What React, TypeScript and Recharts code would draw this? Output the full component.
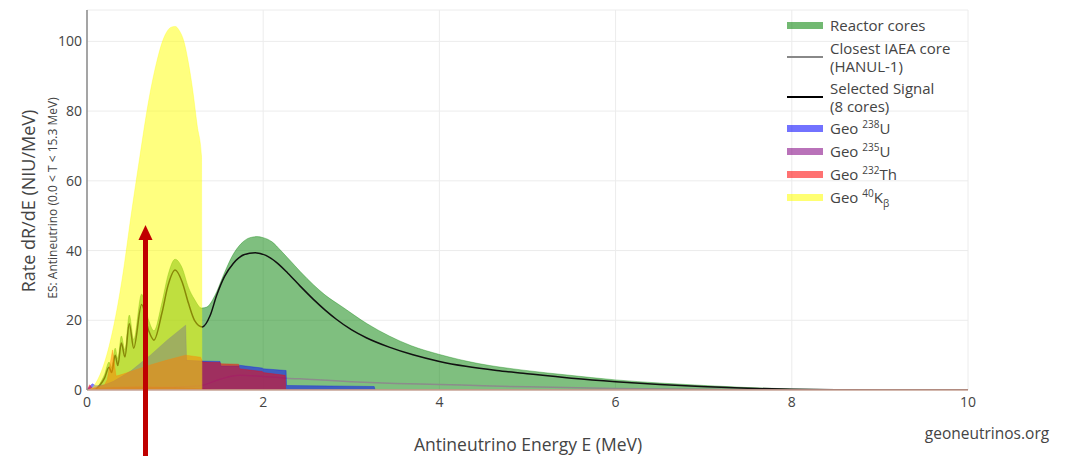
import { ComposedChart, Area, Line, XAxis, YAxis, CartesianGrid } from 'recharts'

// Reactor cores (upper envelope, filled to zero)
const reactorE = [0, 0.1, 0.15, 0.2, 0.25, 0.28, 0.32, 0.35, 0.39, 0.43, 0.48, 0.53, 0.62, 0.7, 0.76, 0.85, 0.92, 1.0, 1.08, 1.15, 1.22, 1.3, 1.36, 1.45, 1.55, 1.65, 1.75, 1.85, 1.93, 2.0, 2.1, 2.2, 2.3, 2.42, 2.57, 2.7, 2.9, 3.18, 3.43, 3.68, 4.0, 4.44, 4.95, 5.45, 6.0, 6.5, 7.0, 7.5, 8.0, 8.5, 9.0, 10]
const reactorR = [0, 0.3, 2, 4.5, 8, 6.5, 12, 9, 15.5, 11.5, 21.5, 14.5, 27.5, 20, 17, 25, 33, 37.5, 35, 29.5, 26, 23.5, 23.8, 27, 33, 38.5, 42, 43.7, 44, 43.7, 42.5, 40, 37.3, 34, 30.2, 27.3, 23.8, 19, 15.5, 12.7, 10.2, 7.6, 5.7, 4.3, 2.9, 2.0, 1.3, 0.7, 0.3, 0.1, 0.03, 0]

// Closest IAEA core (HANUL-1)
const iaeaE = [0, 0.5, 1.0, 1.3, 1.5, 1.73, 2.0, 2.26, 2.5, 3.0, 3.5, 4.0, 4.5, 5.0, 6.0, 7.0, 8.0, 9.0, 10]
const iaeaR = [0, 0.3, 0.8, 1.3, 3.0, 4.2, 3.9, 3.4, 3.1, 2.4, 1.9, 1.6, 1.2, 0.9, 0.4, 0.2, 0.08, 0.02, 0]

// Selected signal (8 cores)
const signalE = [0.1, 0.15, 0.2, 0.25, 0.28, 0.32, 0.35, 0.39, 0.43, 0.48, 0.53, 0.62, 0.7, 0.76, 0.85, 0.92, 1.0, 1.08, 1.15, 1.22, 1.31, 1.4, 1.47, 1.56, 1.66, 1.78, 1.91, 2.03, 2.15, 2.28, 2.42, 2.57, 2.7, 2.83, 3.0, 3.17, 3.43, 3.7, 4.0, 4.3, 4.65, 4.95, 5.5, 6.0, 6.5, 6.97, 7.5, 8.0, 8.5, 9.0, 10]
const signalR = [0.2, 1.5, 3.5, 6.5, 5, 10, 7, 13.5, 9.5, 19, 12, 24.5, 17, 14.3, 22, 30, 34.4, 31, 25, 20, 18.1, 21.5, 27, 32.5, 36.3, 38.8, 39.4, 38.6, 36.6, 33.5, 29.8, 26, 23, 20.3, 17.3, 15, 12.3, 10.1, 8.2, 6.8, 5.6, 4.8, 3.4, 2.4, 1.6, 1.0, 0.5, 0.2, 0.08, 0.02, 0]

// Geo U-238
const u238E = [0, 0.03, 0.06, 0.1, 0.2, 0.3, 0.5, 0.72, 0.91, 1.12, 1.13, 1.31, 1.51, 1.52, 1.72, 1.73, 1.99, 2.0, 2.26, 2.265, 3.0, 3.26, 3.27, 10]
const u238R = [0, 1.0, 1.8, 1.2, 1.5, 2.5, 5.5, 10, 14.3, 18.6, 8.5, 8.3, 8.2, 6.9, 6.9, 7.1, 6.3, 6.1, 5.6, 1.3, 1.1, 1.0, 0, 0]

// Geo U-235
const u235E = [0, 0.1, 0.3, 0.6, 0.9, 1.2, 1.4, 1.5, 10]
const u235R = [0, 0.5, 0.8, 0.9, 0.8, 0.5, 0.2, 0, 0]

// Geo Th-232
const th232E = [0, 0.03, 0.06, 0.1, 0.2, 0.23, 0.29, 0.33, 0.4, 0.54, 0.72, 0.91, 1.12, 1.29, 1.31, 1.51, 1.52, 1.72, 1.73, 1.99, 2.0, 2.25, 2.255, 10]
const th232R = [0, 1.5, 0.5, 0.8, 1.5, 3, 11.5, 4, 4.5, 5.7, 7.2, 8.6, 10, 9.4, 8.0, 7.9, 7.5, 7.4, 6.1, 5.3, 5.0, 4.2, 0, 0]

// Geo K-40 (beta)
const k40E = [0, 0.05, 0.1, 0.2, 0.3, 0.4, 0.5, 0.6, 0.7, 0.8, 0.85, 0.9, 0.95, 1.0, 1.05, 1.1, 1.15, 1.2, 1.25, 1.3, 1.305, 10]
const k40R = [0, 0.4, 2, 8, 18, 32, 50, 67, 83, 95, 99.5, 102.5, 104, 104.3, 103, 100, 94, 86, 76, 67, 0, 0]

const xTicks = [0, 2, 4, 6, 8, 10]
const yTicks = [0, 20, 40, 60, 80, 100]

const toPts = (es: number[], rs: number[]) => es.map((e, i) => ({ e, r: rs[i] }))

const FONT = '"Open Sans", "Noto Sans", sans-serif'

const areas = [
  { key: 'u238', data: toPts(u238E, u238R), color: '#0000ff', z: 300, curve: 'linear' },
  { key: 'u235', data: toPts(u235E, u235R), color: '#800080', z: 310, curve: 'linear' },
  { key: 'th232', data: toPts(th232E, th232R), color: '#ff0000', z: 320, curve: 'linear' },
  { key: 'k40', data: toPts(k40E, k40R), color: '#ffff00', z: 330, curve: 'monotone' },
] as const

function Swatch({ color, line }: { color: string; line?: boolean }) {
  if (line) {
    return <div style={{ width: 36, height: 2, background: color, marginRight: 7 }} />
  }
  return (
    <div
      style={{
        width: 34,
        height: 5,
        background: color,
        opacity: 0.55,
        border: `1px solid ${color}`,
        marginRight: 7,
      }}
    />
  )
}

function LegendBox() {
  const row = (h: number) => ({
    display: 'flex',
    alignItems: 'center',
    padding: '2px 0',
    lineHeight: `${h}px`,
  })
  const sup = { fontSize: 10, verticalAlign: 'super', lineHeight: 0 } as const
  return (
    <div
      style={{
        position: 'absolute',
        left: 787,
        top: 14,
        fontFamily: FONT,
        fontSize: 15,
        color: '#444',
      }}
    >
      <div style={row(19)}>
        <Swatch color="#008000" />
        <span>Reactor cores</span>
      </div>
      <div style={row(18)}>
        <Swatch color="#888888" line />
        <span>
          Closest IAEA core
          <br />
          (HANUL-1)
        </span>
      </div>
      <div style={row(18)}>
        <Swatch color="#000000" line />
        <span>
          Selected Signal
          <br />
          (8 cores)
        </span>
      </div>
      <div style={row(19)}>
        <Swatch color="#0000ff" />
        <span>
          Geo <span style={sup}>238</span>U
        </span>
      </div>
      <div style={row(19)}>
        <Swatch color="#800080" />
        <span>
          Geo <span style={sup}>235</span>U
        </span>
      </div>
      <div style={row(19)}>
        <Swatch color="#ff0000" />
        <span>
          Geo <span style={sup}>232</span>Th
        </span>
      </div>
      <div style={row(19)}>
        <Swatch color="#ffff00" />
        <span>
          Geo <span style={sup}>40</span>K
          <span style={{ fontSize: 10, verticalAlign: 'sub', lineHeight: 0 }}>β</span>
        </span>
      </div>
    </div>
  )
}

export default function App() {
  return (
    <div style={{ position: 'absolute', left: 0, top: 0, width: 1067, height: 456, background: '#fff' }}>
      <ComposedChart width={1067} height={456} margin={{ top: 10, right: 99, bottom: 0, left: 0 }}>
        <CartesianGrid stroke="#ececec" strokeWidth={1} />
        <XAxis
          type="number"
          dataKey="e"
          domain={[0, 10]}
          ticks={xTicks}
          allowDataOverflow
          height={66}
          tickSize={0}
          tickMargin={7}
          tick={{ fill: '#444', fontSize: 14, fontFamily: FONT }}
          axisLine={{ stroke: '#c9a597', strokeWidth: 1.5 }}
        />
        <YAxis
          type="number"
          dataKey="r"
          domain={[0, 109]}
          ticks={yTicks}
          allowDataOverflow
          width={87}
          tickSize={0}
          tickMargin={5}
          tick={{ fill: '#444', fontSize: 14, fontFamily: FONT }}
          axisLine={{ stroke: '#8a8a8a', strokeWidth: 1.5 }}
        />
        <Area
          data={toPts(reactorE, reactorR)}
          dataKey="r"
          type="monotone"
          fill="#008000"
          fillOpacity={0.5}
          stroke="#008000"
          strokeOpacity={0.35}
          strokeWidth={1}
          isAnimationActive={false}
          zIndex={100}
        />
        <Line
          data={toPts(iaeaE, iaeaR)}
          dataKey="r"
          type="monotone"
          stroke="#8c8c8c"
          strokeWidth={1.5}
          dot={false}
          isAnimationActive={false}
          zIndex={200}
        />
        <Line
          data={toPts(signalE, signalR)}
          dataKey="r"
          type="monotone"
          stroke="#111"
          strokeWidth={1.5}
          dot={false}
          isAnimationActive={false}
          zIndex={210}
        />
        {areas.map((a) => (
          <Area
            key={a.key}
            data={a.data}
            dataKey="r"
            type={a.curve}
            fill={a.color}
            fillOpacity={0.5}
            stroke={a.color}
            strokeOpacity={0.3}
            strokeWidth={1}
            isAnimationActive={false}
            zIndex={a.z}
          />
        ))}
      </ComposedChart>

      <svg
        width={1067}
        height={456}
        style={{ position: 'absolute', left: 0, top: 0, pointerEvents: 'none', fontFamily: FONT }}
      >
        <text x={30} y={201} transform="rotate(-90 30 201)" textAnchor="middle" dominantBaseline="middle" fontSize={18} fill="#444">
          Rate dR/dE (NIU/MeV)
        </text>
        <text x={54} y={198} transform="rotate(-90 54 198)" textAnchor="middle" dominantBaseline="middle" fontSize={12} fill="#444">
          ES: Antineutrino (0.0 &lt; T &lt; 15.3 MeV)
        </text>
        <text x={528} y={446} textAnchor="middle" dominantBaseline="middle" fontSize={17.5} fill="#444">
          Antineutrino Energy E (MeV)
        </text>
        <text x={987} y={435} textAnchor="middle" dominantBaseline="middle" fontSize={15.5} fill="#444">
          geoneutrinos.org
        </text>
        <rect x={143} y={238} width={5} height={220} fill="#c00000" />
        <polygon points="145.5,225 138.5,240 152.5,240" fill="#c00000" />
      </svg>
      <LegendBox />
    </div>
  )
}
